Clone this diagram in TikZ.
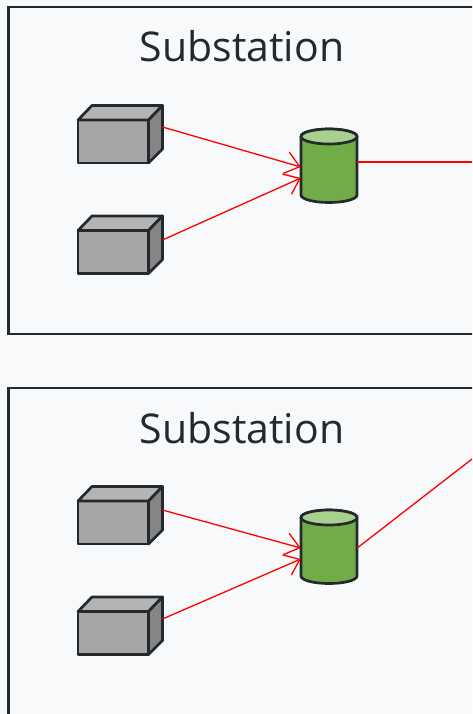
\documentclass[tikz,border=0pt]{standalone}
\usepackage{fontspec}
\setmainfont{Open Sans}
\usetikzlibrary{arrows.meta}
\definecolor{bgc}{HTML}{F8F9FA}
\definecolor{ink}{HTML}{24292E}
\definecolor{cubefront}{HTML}{A6A6A6}
\definecolor{cubetop}{HTML}{B4B4B4}
\definecolor{cubeside}{HTML}{858585}
\definecolor{cylbody}{HTML}{70AD47}
\definecolor{cyltop}{HTML}{A9D18E}
\tikzset{
  panel/.style={draw=ink,line width=2.3pt,fill=bgc},
  shapeline/.style={draw=ink,line width=2.7pt,line join=round},
  link/.style={draw=red,line width=1.3pt},
  linkarrow/.style={link,-{Straight Barb[length=14pt,width=22pt,line width=1.3pt]}},
  titletext/.style={font=\fontsize{41}{46}\selectfont,text=ink,inner sep=0pt,anchor=base},
  box/.style={inner sep=0pt,minimum width=84pt,minimum height=57pt},
  drum/.style={inner sep=0pt,minimum width=56pt,minimum height=73pt}
}
\newcommand{\cubeat}[3]{%
  % #1 name, #2 x of front left, #3 y of front top
  \begin{scope}[shift={(#2,#3)}]
    \filldraw[shapeline,fill=cubefront] (0,0) rectangle (70.5,43);
    \filldraw[shapeline,fill=cubetop] (0,0) -- (14,-14.5) -- (84.5,-14.5) -- (70.5,0) -- cycle;
    \filldraw[shapeline,fill=cubeside] (70.5,0) -- (84.5,-14.5) -- (84.5,29) -- (70.5,43) -- cycle;
    \node[box] (#1) at (42.25,14) {};
  \end{scope}}
\newcommand{\drumat}[3]{%
  % #1 name, #2 centre x, #3 top ellipse centre y
  \begin{scope}[shift={(#2,#3)}]
    \filldraw[shapeline,fill=cylbody] (-28,0) -- (-28,58.5) arc[start angle=180,end angle=0,x radius=28,y radius=7.5] -- (28,0) arc[start angle=0,end angle=-180,x radius=28,y radius=7.5] -- cycle;
    \filldraw[shapeline,fill=cyltop] (0,0) ellipse[x radius=28,y radius=7.5];
    \node[drum] (#1) at (0,29) {};
  \end{scope}}
\begin{document}
\begin{tikzpicture}[x=1pt,y=-1pt]
  \useasboundingbox (0,0) rectangle (472,714);
  \clip (0,0) rectangle (472,714);
  \fill[bgc] (0,0) rectangle (472,714);
  \draw[panel] (8.5,7) rectangle (500,334);
  \draw[panel] (8.5,388) rectangle (500,760);
  \node[titletext] (title1) at (242,61.5) {Substation};
  \node[titletext] (title2) at (242,443) {Substation};

  \cubeat{cubeA}{78}{120}
  \cubeat{cubeB}{78}{230.5}
  \drumat{drumA}{329}{136.5}
  \coordinate (outA) at (472,162);
  \cubeat{cubeC}{78}{501}
  \cubeat{cubeD}{78}{611.5}
  \drumat{drumB}{329}{517.5}
  \coordinate (outB) at (472,459);

  \draw[linkarrow] (cubeA.east |- 0,127) -- (drumA.west |- 0,167);
  \draw[linkarrow] (cubeB.east |- 0,240) -- (drumA.west |- 0,178);
  \draw[link] (drumA.east |- 0,162) -- (outA);
  \draw[linkarrow] (cubeC.east |- 0,510) -- (drumB.west |- 0,548);
  \draw[linkarrow] (cubeD.east |- 0,619) -- (drumB.west |- 0,559);
  \draw[link] (drumB.east |- 0,548) -- (outB);
\end{tikzpicture}
\end{document}
